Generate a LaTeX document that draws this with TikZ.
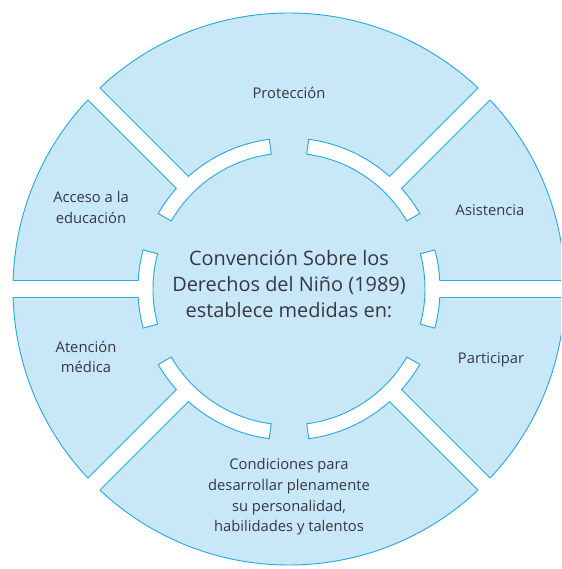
\documentclass[tikz,border=0pt]{standalone}
\usepackage{fontspec}
\setmainfont{Open Sans}
\usepackage{tikz}

\definecolor{cielo}{RGB}{200,232,248}
\definecolor{borde}{RGB}{40,170,225}
\definecolor{texto}{RGB}{55,55,65}

\tikzset{
	etiqueta/.style={align=center, text=texto, font=\fontsize{12.6}{17.6}\selectfont},
	titulo/.style={align=center, text=texto, font=\fontsize{17}{22.5}\selectfont},
}

\begin{document}
\begin{tikzpicture}[scale=0.3, line width=0.8pt, line join=miter]
	\clip (-28.9,-28.0) rectangle (27.2,28.9);
	\fill[cielo, draw=borde] (0,0) circle (27.6);

	% arcos con rayos
	\foreach \ang/\a/\b in {0/15/15, 45/15/37.5, 135/37.5/15, 180/15/15, 225/15/37.5, 315/37.5/15} {
		\begin{scope}[rotate=\ang]
			\fill[white] (-\a:13.6) arc[start angle=-\a, end angle=\b, radius=13.6]
				-- (\b:15.1) arc[start angle=\b, end angle=3.23, radius=15.1]
				-- (28.5,0.85) -- (28.5,-0.85)
				-- (-3.23:15.1) arc[start angle=-3.23, end angle=-\a, radius=15.1] -- cycle;
			\draw[borde] (27.59,0.85) -- (3.23:15.1) arc[start angle=3.23, end angle=\b, radius=15.1]
				-- (\b:13.6) arc[start angle=\b, end angle=-\a, radius=13.6]
				-- (-\a:15.1) arc[start angle=-\a, end angle=-3.23, radius=15.1] -- (27.59,-0.85);
		\end{scope}
	}

	\node[titulo] (conv) at (0,0.5) {Convención Sobre los\\Derechos del Niño (1989)\\establece medidas en:};
	\node[etiqueta] (prot) at (0,19.6) {Protección};
	\node[etiqueta] (asis) at (20.1,7.9) {Asistencia};
	\node[etiqueta] (part) at (20.2,-7.1) {Participar};
	\node[etiqueta] (acce) at (-19.8,8.15) {Acceso a la\\educación};
	\node[etiqueta] (aten) at (-20.3,-6.8) {Atención\\médica};
	\node[etiqueta] (cond) at (0,-20.8) {Condiciones para\\desarrollar plenamente\\su personalidad,\\habilidades y talentos};
\end{tikzpicture}
\end{document}
